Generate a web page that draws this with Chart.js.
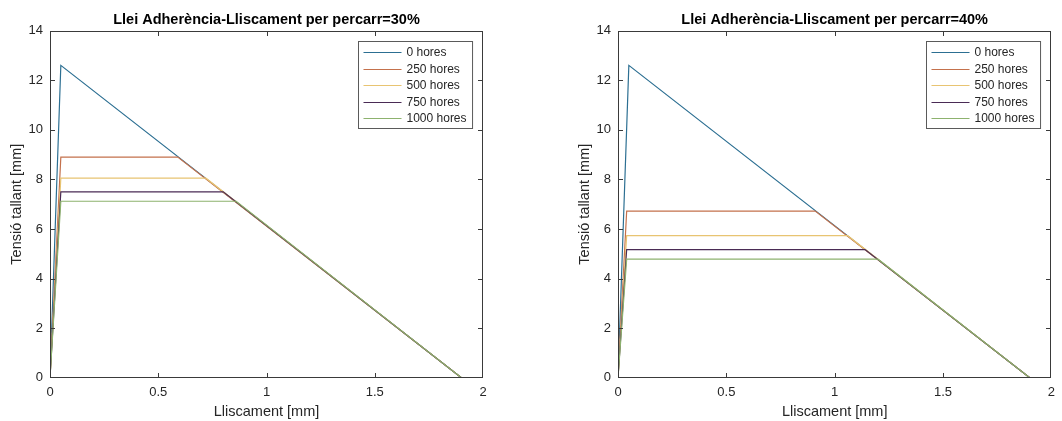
<html>
<head>
<meta charset="utf-8">
<script src="https://cdn.jsdelivr.net/npm/chart.js@4.4.1/dist/chart.umd.min.js"></script>
<style>
  body { margin: 0; background: #fff; }
  .panell { position: absolute; top: 0; width: 531px; height: 421px; }
</style>
</head>
<body>
<div class="panell" style="left:0"><canvas id="grafic30" width="531" height="421"></canvas></div>
<div class="panell" style="left:531px"><canvas id="grafic40" width="531" height="421"></canvas></div>

<script>
// llei adherencia-lliscament per a cada edat (hores d'envelliment)
const hores = ['0 hores', '250 hores', '500 hores', '750 hores', '1000 hores'];
const colors = ['#2c6f92', '#c4714c', '#e8c472', '#4a2b55', '#8db26e'];

// percarr = 30%
const lliscament30 = [
  [0, 0.05, 1.9],
  [0, 0.05, 0.59, 1.9],
  [0, 0.05, 0.72, 1.9],
  [0, 0.05, 0.80, 1.9],
  [0, 0.05, 0.86, 1.9]
];
const tensio30 = [
  [0, 12.6, 0],
  [0, 8.9, 8.9, 0],
  [0, 8.05, 8.05, 0],
  [0, 7.5, 7.5, 0],
  [0, 7.12, 7.12, 0]
];

// percarr = 40%
const lliscament40 = [
  [0, 0.05, 1.9],
  [0, 0.04, 0.91, 1.9],
  [0, 0.04, 1.06, 1.9],
  [0, 0.04, 1.14, 1.9],
  [0, 0.04, 1.20, 1.9]
];
const tensio40 = [
  [0, 12.6, 0],
  [0, 6.72, 6.72, 0],
  [0, 5.73, 5.73, 0],
  [0, 5.17, 5.17, 0],
  [0, 4.78, 4.78, 0]
];

const ticksX = [0, 0.5, 1, 1.5, 2];
const ticksY = [0, 2, 4, 6, 8, 10, 12, 14];

const FONT = "'Liberation Sans', Arial, sans-serif";

// caixa tancada, marques cap a dins i llegenda dins dels eixos
const marcEixos = {
  id: 'marcEixos',
  afterDraw(chart) {
    const { ctx, chartArea: a, scales: { x, y } } = chart;
    const L = Math.round(a.left) + 0.5, R = Math.round(a.right) - 0.5;
    const T = Math.round(a.top) + 0.5, B = Math.round(a.bottom) - 0.5;
    const dins = (v, lo, hi) => Math.min(hi, Math.max(lo, v));
    ctx.save();
    ctx.strokeStyle = '#3a3a3a';
    ctx.lineWidth = 1;
    ctx.beginPath();
    x.ticks.forEach(t => {
      const px = dins(Math.round(x.getPixelForValue(t.value)) + 0.5, L, R);
      ctx.moveTo(px, B); ctx.lineTo(px, B - 4.5);
      ctx.moveTo(px, T); ctx.lineTo(px, T + 4.5);
    });
    y.ticks.forEach(t => {
      const py = dins(Math.round(y.getPixelForValue(t.value)) + 0.5, T, B);
      ctx.moveTo(L, py); ctx.lineTo(L + 4.5, py);
      ctx.moveTo(R, py); ctx.lineTo(R - 4.5, py);
    });
    ctx.stroke();
    ctx.strokeRect(L, T, R - L, B - T);

    // llegenda
    ctx.font = '12px ' + FONT;
    const ampleText = Math.max(...chart.data.datasets.map(d => ctx.measureText(d.label).width));
    const w = 48 + ampleText + 6, h = 87, pas = 16.5;
    const bx = Math.round(a.right - 11 - w) + 0.5, by = Math.round(a.top + 10) + 0.5;
    ctx.fillStyle = '#fff';
    ctx.fillRect(bx, by, w, h);
    ctx.strokeStyle = '#5a5a5a';
    ctx.strokeRect(bx, by, w, h);
    ctx.textBaseline = 'middle';
    chart.data.datasets.forEach((d, i) => {
      const ly = Math.round(by + 10.5 + i * pas) + 0.5;
      ctx.strokeStyle = d.borderColor;
      ctx.lineWidth = 1.2;
      ctx.beginPath();
      ctx.moveTo(bx + 5, ly); ctx.lineTo(bx + 43, ly);
      ctx.stroke();
      ctx.fillStyle = '#262626';
      ctx.fillText(d.label, bx + 48, ly);
    });
    ctx.restore();
  }
};

function dibuixa(id, titol, lliscament, tensio, padEsq, padDre) {
  const datasets = hores.map((h, i) => ({
    label: h,
    data: lliscament[i].map((s, k) => ({ x: s, y: tensio[i][k] })),
    borderColor: colors[i],
    borderWidth: 1.2,
    pointRadius: 0,
    showLine: true,
    fill: false,
    order: hores.length - i   // l'ultima serie queda per sobre
  }));

  new Chart(document.getElementById(id), {
    type: 'scatter',
    data: { datasets: datasets },
    options: {
      responsive: false,
      animation: false,
      layout: { padding: { left: padEsq, right: padDre, top: 0, bottom: 0 } },
      plugins: {
        legend: { display: false },
        tooltip: { enabled: false },
        title: {
          display: true,
          text: titol,
          fullSize: false,
          color: '#000',
          font: { family: FONT, size: 14.5, weight: 'bold', lineHeight: 1.2 },
          padding: { top: 11, bottom: 2.3 }
        }
      },
      scales: {
        x: {
          type: 'linear',
          min: 0, max: 2,
          afterBuildTicks: s => { s.ticks = ticksX.map(v => ({ value: v })); },
          afterFit: s => { s.height = 43.3; },
          grid: { display: false, drawTicks: false },
          border: { display: false },
          ticks: {
            padding: 7, color: '#262626', font: { family: FONT, size: 13 }, maxRotation: 0,
            callback: v => String(v)
          },
          title: {
            display: true, text: 'Lliscament [mm]', color: '#262626',
            font: { family: FONT, size: 14.5 }, padding: { top: 0, bottom: 0.5 }
          }
        },
        y: {
          type: 'linear',
          min: 0, max: 14,
          afterBuildTicks: s => { s.ticks = ticksY.map(v => ({ value: v })); },
          afterFit: s => { s.width = 50; },
          grid: { display: false, drawTicks: false },
          border: { display: false },
          ticks: {
            padding: 7, color: '#262626', font: { family: FONT, size: 13 },
            callback: v => String(v)
          },
          title: {
            display: true, text: 'Tensió tallant [mm]', color: '#262626',
            font: { family: FONT, size: 14.5 }, padding: { top: 8, bottom: 0 }
          }
        }
      }
    },
    plugins: [marcEixos]
  });
}

dibuixa('grafic30', 'Llei Adherència-Lliscament per percarr=30%', lliscament30, tensio30, 0, 48);
dibuixa('grafic40', 'Llei Adherència-Lliscament per percarr=40%', lliscament40, tensio40, 37, 7);
</script>
</body>
</html>
